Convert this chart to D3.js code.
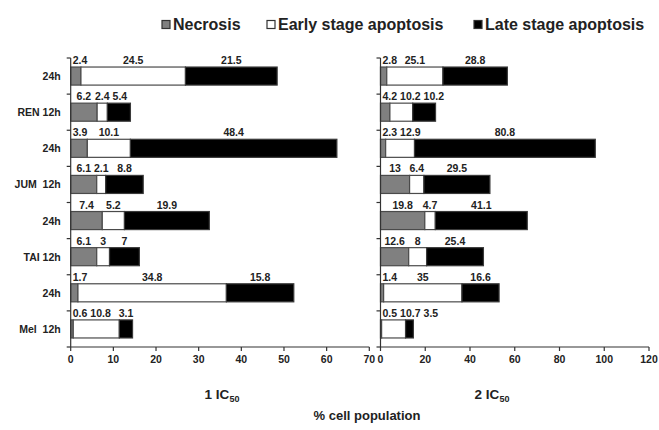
<!DOCTYPE html>
<html><head><meta charset="utf-8">
<script src="https://cdn.jsdelivr.net/npm/d3@7"></script>
<style>
body{margin:0;background:#fff;}
svg{display:block;font-family:"Liberation Sans",Arial,sans-serif;font-weight:bold;}
</style></head>
<body><svg id="c" width="659" height="430"></svg>
<script>
const categories = ["REN 24h","REN 12h","JUM 24h","JUM 12h","TAI 24h","TAI 12h","Mel 24h","Mel 12h"];
const categoryLabels = ["24h","REN 12h","24h","JUM\u00a0\u00a012h","24h","TAI 12h","24h","Mel\u00a0\u00a012h"];
const seriesNames = ["Necrosis","Early stage apoptosis","Late stage apoptosis"];
// 1 IC50
const necrosis1 = [2.4, 6.2, 3.9, 6.1, 7.4, 6.1, 1.7, 0.6];
const early1    = [24.5, 2.4, 10.1, 2.1, 5.2, 3, 34.8, 10.8];
const late1     = [21.5, 5.4, 48.4, 8.8, 19.9, 7, 15.8, 3.1];
// 2 IC50
const necrosis2 = [2.8, 4.2, 2.3, 13, 19.8, 12.6, 1.4, 0.5];
const early2    = [25.1, 10.2, 12.9, 6.4, 4.7, 8, 35, 10.7];
const late2     = [28.8, 10.2, 80.8, 29.5, 41.1, 25.4, 16.6, 3.5];
const ticks1 = [0,10,20,30,40,50,60,70];
const ticks2 = [0,20,40,60,80,100,120];

const fills = ["#808080","#ffffff","#000000"];
const strokes = ["#4a4a4a","#4a4a4a","#3a3a3a"];
const txt = "#222";
const svg = d3.select("#c");

const y = d3.scaleBand().domain(categories).range([58, 347]).paddingInner(0.5).paddingOuter(0.25);

function panel(x0, x1, maxV, ticks, nec, ear, lat, title, titleX, showCats){
  const x = d3.scaleLinear().domain([0, maxV]).range([x0, x1]);
  const g = svg.append("g");
  const stackData = categories.map((c,i)=>({cat:c, v:[nec[i], ear[i], lat[i]]}));
  const stack = d3.stack().keys([0,1,2]).value((d,k)=>d.v[k]);
  const layers = stack(stackData);
  layers.forEach((layer, k)=>{
    g.selectAll(null).data(layer).enter().append("rect")
      .attr("x", d=>x(d[0]))
      .attr("y", d=>y(d.data.cat))
      .attr("width", d=>x(d[1])-x(d[0]))
      .attr("height", y.bandwidth())
      .attr("fill", fills[k])
      .attr("stroke", strokes[k])
      .attr("stroke-width", 1.2);
  });
  // value labels
  stackData.forEach((d, i)=>{
    let prevRight = x(0) - 1;
    [0,1,2].forEach(k=>{
      const s = layers[k][i];
      const cx = (x(s[0]) + x(s[1]))/2;
      const t = g.append("text").text(d.v[k])
        .attr("font-size", 10.5).attr("fill", txt)
        .attr("y", y(d.cat) - 3);
      const w = t.node().getComputedTextLength();
      let left = Math.max(cx - w/2, prevRight + 3);
      t.attr("x", left);
      prevRight = left + w;
    });
  });
  // y axis line + ticks at band boundaries
  const step = y.step(), off = step*y.paddingInner()/2;
  const bounds = categories.map(c=>y(c)-off).concat([y(categories[categories.length-1]) + y.bandwidth() + off]);
  g.append("line").attr("x1", x(0)).attr("x2", x(0)).attr("y1", bounds[0]).attr("y2", bounds[bounds.length-1])
    .attr("stroke","#333").attr("stroke-width",1.2);
  g.selectAll(null).data(bounds).enter().append("line")
    .attr("x1", x(0)-4).attr("x2", x(0)).attr("y1", d=>d).attr("y2", d=>d)
    .attr("stroke","#333").attr("stroke-width",1.2);
  // x axis
  const yb = bounds[bounds.length-1];
  g.append("line").attr("x1", x(0)).attr("x2", x(maxV)).attr("y1", yb).attr("y2", yb)
    .attr("stroke","#333").attr("stroke-width",1.2);
  g.selectAll(null).data(ticks).enter().append("line")
    .attr("x1", d=>x(d)).attr("x2", d=>x(d)).attr("y1", yb).attr("y2", yb+4)
    .attr("stroke","#333").attr("stroke-width",1.2);
  g.selectAll(null).data(ticks).enter().append("text")
    .attr("x", d=>x(d)).attr("y", yb+16).attr("text-anchor","middle")
    .attr("font-size", 10.5).attr("fill", txt).text(d=>d);
  if(showCats){
    g.selectAll(null).data(categories).enter().append("text")
      .attr("x", x(0)-10).attr("y", d=>y(d)+y.bandwidth()/2+4)
      .attr("text-anchor","end").attr("font-size",10.5).attr("fill",txt)
      .text((d,i)=>categoryLabels[i]);
  }
  const tt = g.append("text").attr("x", titleX).attr("y", 399).attr("text-anchor","middle")
    .attr("font-size", 13.5).attr("fill", txt);
  tt.append("tspan").text(title);
  tt.append("tspan").attr("font-size", 9).attr("dy", 3).text("50");
}

panel(70.7, 369.3, 70, ticks1, necrosis1, early1, late1, "1 IC", 222, true);
panel(380.5, 649, 120, ticks2, necrosis2, early2, late2, "2 IC", 492, false);

svg.append("text").attr("x", 367).attr("y", 420).attr("text-anchor","middle")
  .attr("font-size", 13).attr("fill", txt).text("% cell population");

// legend
const legX = [162, 267, 474];
seriesNames.forEach((n,k)=>{
  svg.append("rect").attr("x", legX[k]).attr("y", 20.5).attr("width", 8).attr("height", 8)
    .attr("fill", fills[k]).attr("stroke", "#333").attr("stroke-width", 1.2);
  svg.append("text").attr("x", legX[k]+11).attr("y", 29.5).attr("font-size", 16).attr("fill", txt).text(n);
});
</script></body></html>
